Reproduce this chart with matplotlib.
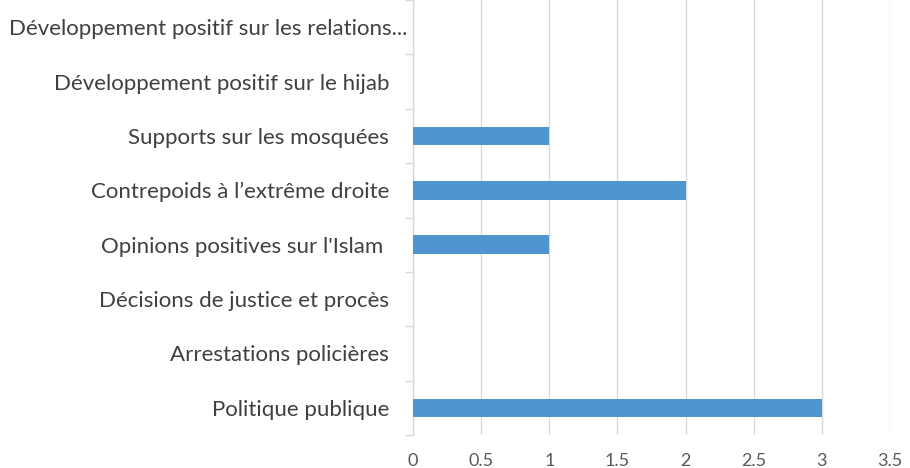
import matplotlib
matplotlib.use("Agg")
import matplotlib.pyplot as plt
import matplotlib.transforms as mtransforms
import numpy as np

categories = [
    "Politique publique",
    "Arrestations policières",
    "Décisions de justice et procès",
    "Opinions positives sur l'Islam ",
    "Contrepoids à l’extrême droite",
    "Supports sur les mosquées",
    "Développement positif sur le hijab",
    "Développement positif sur les relations...",
]
values = [3, 0, 0, 1, 2, 1, 0, 0]
x_ticks = [0, 0.5, 1, 1.5, 2, 2.5, 3, 3.5]
x_labels = ["0", "0.5", "1", "1.5", "2", "2.5", "3", "3.5"]

plt.rcParams["font.family"] = ["Lato", "DejaVu Sans"]

fig = plt.figure(figsize=(9.1, 4.68), dpi=100)
ax = fig.add_axes([0.4538, 0.0705, 0.978 - 0.4538, 0.9295])

y = np.arange(len(categories))
ax.barh(y, values, height=0.34, color="#4F95CF", edgecolor="#6FA8DC", linewidth=0.0, zorder=3)

ax.set_xlim(0, 3.5)
ax.set_ylim(-0.5, len(categories) - 0.5)
ax.set_xticks(x_ticks)
ax.set_xticklabels(x_labels)
ax.set_yticks(y)
ax.set_yticklabels(categories)
ax.set_yticks(np.arange(-0.5, len(categories), 1), minor=True)

ax.grid(axis="x", color="#D9D9D9", linewidth=1, zorder=0)
for s in ["top", "right", "bottom"]:
    ax.spines[s].set_visible(False)
ax.spines["left"].set_color("#D9D9D9")
ax.spines["left"].set_linewidth(1)

ax.tick_params(axis="y", which="major", length=0, pad=17, labelsize=16, labelcolor="#404040")
ax.tick_params(axis="y", which="minor", length=5.5, color="#D9D9D9", width=1)
ax.tick_params(axis="x", length=0, pad=13, labelsize=13, labelcolor="#595959")

# le libellé tronqué déborde un peu vers l'axe, comme dans Excel
lab = ax.get_yticklabels()[-1]
lab.set_transform(lab.get_transform() + mtransforms.ScaledTranslation(18 / 100, 0, fig.dpi_scale_trans))

fig.savefig("out.png", dpi=100)
